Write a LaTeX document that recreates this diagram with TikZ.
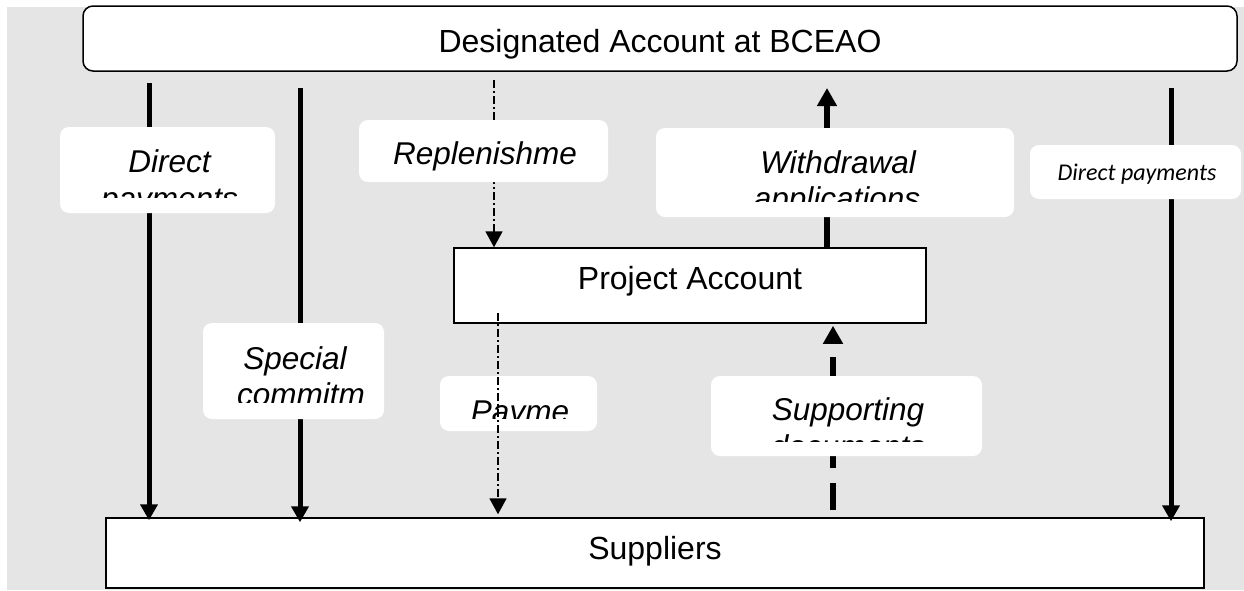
\documentclass[tikz,border=0pt]{standalone}
\usepackage{fontspec}
\setmainfont{Liberation Sans}
\newfontfamily\calibri{Carlito}
\usepackage{tikz}
\usetikzlibrary{arrows.meta, positioning}
\definecolor{bggray}{RGB}{229,229,229}

\begin{document}
\begin{tikzpicture}[
      x=1pt, y=-1pt,
      acct/.style={rectangle, draw, line width=1.5pt, fill=white, inner sep=0pt,
                   font=\fontsize{32}{36}\selectfont},
      lbl/.style={rectangle, fill=white, rounded corners=9pt, inner sep=0pt},
      ltxt/.style={anchor=base, inner sep=0pt, font=\fontsize{31.5}{36}\selectfont\itshape},
      solidarr/.style={-{Triangle[width=17pt,length=16pt]}, line width=5pt},
      bigarr/.style={-{Triangle[width=19pt,length=18pt]}, line width=6pt},
      dotarr/.style={-{Triangle[width=17pt,length=16pt]}, line width=1.8pt,
                     dash pattern=on 8pt off 3pt on 2pt off 3pt},
      docarr/.style={-{Triangle[width=19pt,length=18pt]}, line width=6pt,
                     dash pattern=on 27pt off 15pt},
    ]
    \useasboundingbox (0,0) rectangle (1244,590);
    \fill[bggray] (7,7) rectangle (1244,590);

    % accounts
    \node[acct, rounded corners=10pt, minimum width=1154pt, minimum height=65pt,
          text height=27pt, text depth=0pt] (bceao) at (660,38.5) {Designated Account at BCEAO};
    \node[acct, minimum width=472pt, minimum height=75pt,
          text height=23pt, text depth=15pt] (project) at (690,285.5) {Project Account};
    \node[acct, minimum width=1098pt, minimum height=70pt,
          text height=23pt, text depth=10pt] (suppliers) at (655,553) {Suppliers};

    % flows
    \coordinate (dp1-top) at (149,83);
    \coordinate (sc-top)  at (300,88);
    \coordinate (rp-top)  at (494,80);
    \coordinate (wd-top)  at (827,88);
    \coordinate (dp2-top) at (1171,88);
    \coordinate (pm-top)  at (498,313);
    \coordinate (sd-bot)  at (833,510);

    \draw[solidarr] (dp1-top) -- ([yshift=-3pt]dp1-top |- suppliers.north);
    \draw[solidarr] (sc-top)  -- ([yshift=-5pt]sc-top |- suppliers.north);
    \draw[solidarr] (dp2-top) -- ([yshift=-4pt]dp2-top |- suppliers.north);
    \draw[dotarr]   (rp-top)  -- (rp-top |- project.north);
    \draw[bigarr]   (wd-top |- project.north) -- (wd-top);
    \draw[docarr]   (sd-bot)  -- ([yshift=-2pt]sd-bot |- project.south);

    % labels
    \node[lbl, minimum width=215pt, minimum height=86pt] (dp1-box) at (167.5,170) {};
    \begin{scope}
      \clip (60,127) rectangle (275,197);
      \node[ltxt] (dp1-a) at (169.5,172.7) {Direct};
      \node[ltxt] (dp1-b) at (169.5,209) {payments};
    \end{scope}

    \node[lbl, minimum width=249pt, minimum height=62pt] (rp-box) at (483.5,151) {};
    \node[ltxt] (rp-a) at (485,164) {Replenishme};

    \node[lbl, minimum width=358pt, minimum height=89pt] (wd-box) at (835,172.5) {};
    \begin{scope}
      \clip (656,128) rectangle (1014,201);
      \node[ltxt] (wd-a) at (838,173.3) {Withdrawal};
      \node[ltxt] (wd-b) at (837,209.5) {applications};
    \end{scope}

    \node[lbl, minimum width=211pt, minimum height=54pt] (dp2-box) at (1135.5,172) {};
    \node[anchor=base, inner sep=0pt, font=\calibri\fontsize{24}{28}\selectfont\itshape]
          (dp2-a) at (1137,180.7) {Direct payments};

    \node[lbl, minimum width=181pt, minimum height=96pt] (sc-box) at (293.5,371) {};
    \begin{scope}
      \clip (203,323) rectangle (384,402);
      \node[ltxt] (sc-a) at (295,369.5) {Special};
      \node[ltxt] (sc-b) at (301,405) {commitm};
    \end{scope}

    \node[lbl, minimum width=157pt, minimum height=55pt] (pm-box) at (518.5,403.5) {};
    \begin{scope}
      \clip (440,376) rectangle (597,418);
      \node[ltxt] (pm-a) at (520,422) {Payme};
    \end{scope}

    \node[lbl, minimum width=271pt, minimum height=80pt] (sd-box) at (846.5,416) {};
    \begin{scope}
      \clip (711,376) rectangle (982,441.7);
      \node[ltxt] (sd-a) at (848,420.7) {Supporting};
      \node[ltxt] (sd-b) at (848,457) {documents};
    \end{scope}

    % payments from project account run over their label
    \draw[dotarr] (pm-top) -- ([yshift=3pt]pm-top |- suppliers.north);
  \end{tikzpicture}
\end{document}
